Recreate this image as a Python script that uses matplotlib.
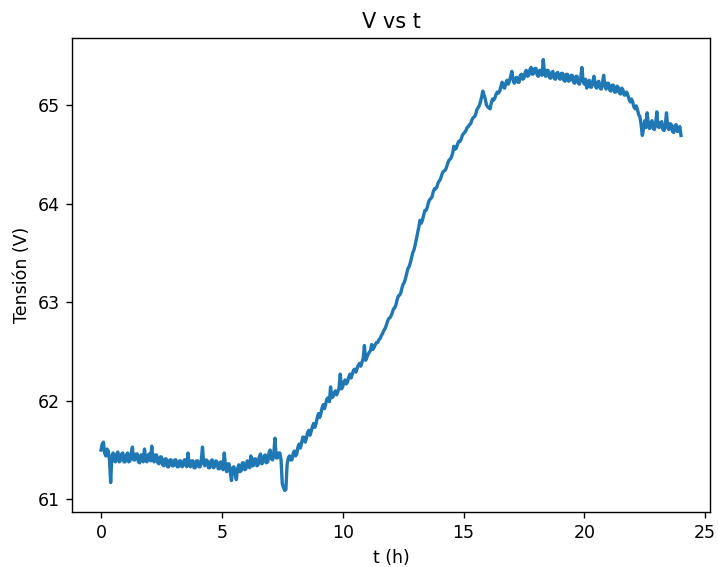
import numpy as np
import matplotlib
matplotlib.use("Agg")
import matplotlib.pyplot as plt

# Time axis in hours, one sample every 3 minutes
t_hours = np.round(np.arange(0, 24.001, 0.05), 2)

# Measured voltage, one row per hour (20 samples each)
v_h00 = [61.50, 61.56, 61.58, 61.47, 61.44, 61.51, 61.49, 61.40, 61.17, 61.43,
         61.47, 61.39, 61.38, 61.46, 61.48, 61.38, 61.39, 61.46, 61.47, 61.38]
v_h01 = [61.38, 61.45, 61.47, 61.38, 61.39, 61.47, 61.53, 61.40, 61.40, 61.46,
         61.46, 61.38, 61.37, 61.45, 61.45, 61.38, 61.51, 61.40, 61.38, 61.45]
v_h02 = [61.46, 61.39, 61.54, 61.40, 61.38, 61.45, 61.45, 61.37, 61.36, 61.43,
         61.43, 61.35, 61.34, 61.41, 61.41, 61.33, 61.33, 61.40, 61.40, 61.34]
v_h03 = [61.34, 61.40, 61.40, 61.33, 61.33, 61.39, 61.39, 61.33, 61.34, 61.40,
         61.40, 61.33, 61.47, 61.36, 61.33, 61.39, 61.39, 61.32, 61.32, 61.39]
v_h04 = [61.39, 61.33, 61.33, 61.40, 61.53, 61.36, 61.34, 61.40, 61.39, 61.32,
         61.32, 61.39, 61.40, 61.32, 61.33, 61.39, 61.38, 61.31, 61.31, 61.38]
v_h05 = [61.37, 61.30, 61.47, 61.34, 61.28, 61.36, 61.36, 61.27, 61.19, 61.32,
         61.33, 61.26, 61.20, 61.31, 61.35, 61.28, 61.29, 61.37, 61.37, 61.30]
v_h06 = [61.31, 61.39, 61.38, 61.32, 61.44, 61.34, 61.34, 61.41, 61.41, 61.34,
         61.35, 61.43, 61.46, 61.36, 61.37, 61.44, 61.45, 61.37, 61.38, 61.47]
v_h07 = [61.50, 61.41, 61.40, 61.47, 61.62, 61.42, 61.42, 61.47, 61.47, 61.40,
         61.16, 61.12, 61.09, 61.10, 61.35, 61.42, 61.44, 61.40, 61.40, 61.46]
v_h08 = [61.49, 61.44, 61.46, 61.53, 61.56, 61.52, 61.57, 61.63, 61.63, 61.58,
         61.62, 61.68, 61.70, 61.65, 61.69, 61.74, 61.77, 61.73, 61.77, 61.83]
v_h09 = [61.87, 61.83, 61.87, 61.93, 61.96, 61.92, 61.97, 62.02, 62.03, 61.99,
         62.14, 62.03, 62.04, 62.08, 62.10, 62.06, 62.09, 62.13, 62.27, 62.12]
v_h10 = [62.14, 62.19, 62.21, 62.17, 62.19, 62.24, 62.27, 62.23, 62.27, 62.31,
         62.32, 62.29, 62.33, 62.36, 62.38, 62.35, 62.39, 62.43, 62.56, 62.41]
v_h11 = [62.44, 62.47, 62.49, 62.51, 62.57, 62.52, 62.54, 62.57, 62.59, 62.59,
         62.62, 62.63, 62.66, 62.68, 62.71, 62.73, 62.76, 62.80, 62.83, 62.84]
v_h12 = [62.86, 62.89, 62.93, 62.94, 62.97, 63.02, 63.06, 63.07, 63.09, 63.14,
         63.18, 63.20, 63.24, 63.29, 63.34, 63.36, 63.40, 63.45, 63.50, 63.53]
v_h13 = [63.58, 63.64, 63.70, 63.76, 63.83, 63.80, 63.83, 63.88, 63.93, 63.93,
         63.96, 64.01, 64.04, 64.05, 64.07, 64.12, 64.15, 64.15, 64.17, 64.21]
v_h14 = [64.23, 64.25, 64.29, 64.32, 64.33, 64.34, 64.37, 64.41, 64.44, 64.45,
         64.47, 64.51, 64.58, 64.55, 64.56, 64.60, 64.63, 64.63, 64.65, 64.69]
v_h15 = [64.71, 64.72, 64.74, 64.77, 64.78, 64.80, 64.81, 64.85, 64.87, 64.88,
         64.90, 64.95, 64.97, 64.99, 65.03, 65.08, 65.14, 65.10, 65.06, 65.00]
v_h16 = [64.98, 64.97, 64.96, 65.02, 65.06, 65.05, 65.07, 65.11, 65.13, 65.12,
         65.14, 65.19, 65.23, 65.18, 65.17, 65.22, 65.25, 65.21, 65.24, 65.29]
v_h17 = [65.34, 65.26, 65.22, 65.27, 65.28, 65.23, 65.23, 65.30, 65.31, 65.26,
         65.27, 65.33, 65.35, 65.29, 65.30, 65.36, 65.38, 65.31, 65.32, 65.37]
v_h18 = [65.37, 65.30, 65.29, 65.35, 65.35, 65.30, 65.46, 65.33, 65.29, 65.35,
         65.35, 65.28, 65.27, 65.33, 65.34, 65.27, 65.26, 65.32, 65.33, 65.27]
v_h19 = [65.26, 65.32, 65.32, 65.25, 65.24, 65.31, 65.31, 65.24, 65.25, 65.30,
         65.30, 65.23, 65.22, 65.29, 65.29, 65.22, 65.21, 65.27, 65.38, 65.24]
v_h20 = [65.21, 65.26, 65.17, 65.23, 65.25, 65.18, 65.18, 65.24, 65.29, 65.20,
         65.17, 65.23, 65.24, 65.17, 65.16, 65.22, 65.30, 65.19, 65.16, 65.22]
v_h21 = [65.22, 65.15, 65.14, 65.20, 65.20, 65.13, 65.13, 65.19, 65.18, 65.12,
         65.11, 65.17, 65.15, 65.10, 65.10, 65.13, 65.10, 65.06, 65.03, 65.06]
v_h22 = [65.03, 64.98, 64.96, 64.99, 64.95, 64.90, 64.88, 64.80, 64.69, 64.76,
         64.84, 64.77, 64.92, 64.79, 64.76, 64.82, 64.84, 64.76, 64.75, 64.81]
v_h23 = [64.93, 64.78, 64.77, 64.82, 64.83, 64.75, 64.74, 64.80, 64.92, 64.77,
         64.75, 64.81, 64.80, 64.73, 64.72, 64.79, 64.80, 64.73, 64.74, 64.78]
v_end = [64.69]

voltage = np.concatenate([v_h00, v_h01, v_h02, v_h03, v_h04, v_h05, v_h06, v_h07,
                          v_h08, v_h09, v_h10, v_h11, v_h12, v_h13, v_h14, v_h15,
                          v_h16, v_h17, v_h18, v_h19, v_h20, v_h21, v_h22, v_h23,
                          v_end])

s = 1.25
plt.rcParams.update({
    "font.size": 10 * s,
    "axes.linewidth": 0.8 * s,
    "xtick.major.size": 3.5 * s,
    "ytick.major.size": 3.5 * s,
    "xtick.major.width": 0.8 * s,
    "ytick.major.width": 0.8 * s,
    "xtick.major.pad": 3.5 * s,
    "ytick.major.pad": 3.5 * s,
})

fig = plt.figure(figsize=(7.18, 5.67), dpi=100)
ax = fig.add_axes([72 / 718, 1 - 512 / 567, (710 - 72) / 718, (512 - 38) / 567])
ax.plot(t_hours, voltage, color="#1f77b4", linewidth=2.4)
ax.set_title("V vs t", fontsize=12 * s, pad=6 * s)
ax.set_xlabel("t (h)", labelpad=4 * s)
ax.set_ylabel("Tensión (V)", labelpad=4 * s)
ax.set_xticks([0, 5, 10, 15, 20, 25])
ax.set_yticks([61, 62, 63, 64, 65])
fig.savefig("out.png", dpi=100)
